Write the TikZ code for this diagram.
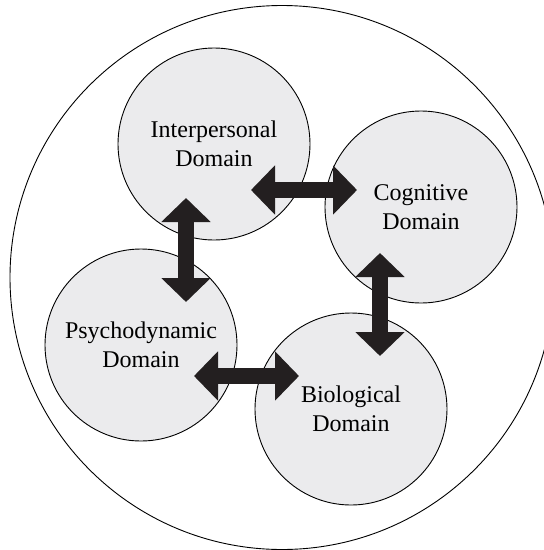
\documentclass[tikz,border=0pt]{standalone}
\usepackage{fontspec}
\setmainfont{Liberation Serif}
\usepackage{tikz}
\usetikzlibrary{arrows.meta}
\definecolor{domaingray}{RGB}{235,235,237}
\definecolor{arrowblack}{RGB}{35,31,32}

\begin{document}
\begin{tikzpicture}[x=1pt,y=-1pt]
\tikzstyle{domainbox}=[circle,draw,line width=0.9pt,fill=domaingray,minimum size=192pt,inner sep=0pt,align=center,font=\fontsize{24}{29}\selectfont]
\tikzstyle{linkarrow}=[arrowblack,line width=16pt,{Triangle[width=48pt,length=24pt]}-{Triangle[width=48pt,length=24pt]}]

\useasboundingbox (0,0) rectangle (544,550);

\node [circle,draw,line width=0.9pt,minimum size=544pt,inner sep=0pt] (whole) at (282,277.5) {};

\node [domainbox] (inter) at (214,144) {Interpersonal\\Domain};
\node [domainbox] (cog) at (421,207) {Cognitive\\Domain};
\node [domainbox] (psycho) at (141,345) {Psychodynamic\\Domain};
\node [domainbox] (bio) at (351,409) {Biological\\Domain};

\draw[linkarrow] ([shift={(37,46)}]inter.center) -- ([shift={(-64,-17)}]cog.center);
\draw[linkarrow] ([shift={(-28,54)}]inter.center) -- ([shift={(45,-43)}]psycho.center);
\draw[linkarrow] ([shift={(-41,46)}]cog.center) -- ([shift={(29,-53)}]bio.center);
\draw[linkarrow] ([shift={(53,31)}]psycho.center) -- ([shift={(-52,-33)}]bio.center);

\end{tikzpicture}
\end{document}
